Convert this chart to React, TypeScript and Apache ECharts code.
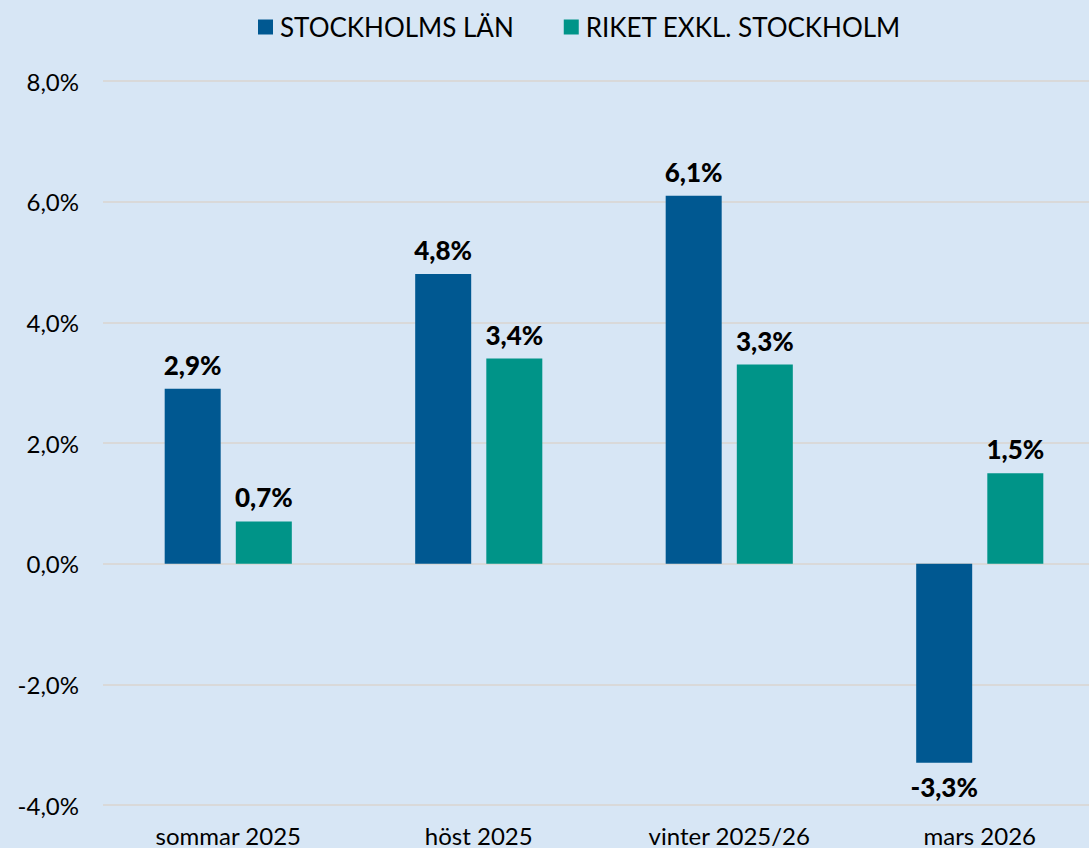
import React, { useEffect, useRef } from "react";
import * as echarts from "echarts";

const categories = ["sommar 2025", "höst 2025", "vinter 2025/26", "mars 2026"];
const stockholm = [2.9, 4.8, 6.1, -3.3];
const riket = [0.7, 3.4, 3.3, 1.5];
const seriesNames = ["STOCKHOLMS LÄN", "RIKET EXKL. STOCKHOLM"];
const yMin = -4;
const yMax = 8;
const yStep = 2;

const fmt = (v: number) => v.toFixed(1).replace(".", ",") + "%";
const FONT = "Lato, 'Noto Sans', sans-serif";

export default function App() {
  const ref = useRef<HTMLDivElement>(null);
  useEffect(() => {
    if (!ref.current) return;
    const chart = echarts.init(ref.current, undefined, { renderer: "svg" });
    const mk = (arr: number[]) =>
      arr.map((v) => ({ value: v, label: { position: v < 0 ? "bottom" : "top" } }));
    const labelStyle = {
      show: true,
      fontSize: 26,
      fontWeight: 900,
      color: "#000",
      distance: 11,
      fontFamily: FONT,
      formatter: (p: any) => fmt(p.value),
    };
    chart.setOption({
      animation: false,
      backgroundColor: "#d7e6f5",
      textStyle: { fontFamily: FONT },
      legend: {
        top: 9,
        left: 253,
        itemWidth: 15,
        itemHeight: 15,
        itemGap: 50,
        icon: "rect",
        textStyle: { fontSize: 26, color: "#000", fontFamily: FONT, padding: [0, 0, 0, 2] },
        data: seriesNames,
      },
      grid: { left: 103, top: 81, right: 0, height: 724, containLabel: false },
      xAxis: {
        type: "category",
        data: categories,
        axisLine: { show: false, onZero: false },
        axisTick: { show: false },
        axisLabel: { fontSize: 24, color: "#000", margin: 18, fontFamily: FONT },
      },
      yAxis: {
        type: "value",
        min: yMin,
        max: yMax,
        interval: yStep,
        axisLine: { show: false },
        axisTick: { show: false },
        splitLine: { lineStyle: { color: "#d9d9d9", width: 2 } },
        axisLabel: { fontSize: 24, color: "#000", margin: 24, formatter: fmt, fontFamily: FONT },
      },
      series: [
        {
          name: seriesNames[0],
          type: "bar",
          data: mk(stockholm),
          barWidth: 56,
          barGap: "27%",
          itemStyle: { color: "#005891" },
          label: labelStyle,
        },
        {
          name: seriesNames[1],
          type: "bar",
          data: mk(riket),
          barWidth: 56,
          itemStyle: { color: "#009488" },
          label: labelStyle,
        },
      ],
    });
    return () => chart.dispose();
  }, []);
  return (
    <div
      style={{ position: "fixed", left: 0, top: 0, width: 1089, height: 848, overflow: "hidden" }}
    >
      <div ref={ref} style={{ width: 1105, height: 848 }} />
    </div>
  );
}
